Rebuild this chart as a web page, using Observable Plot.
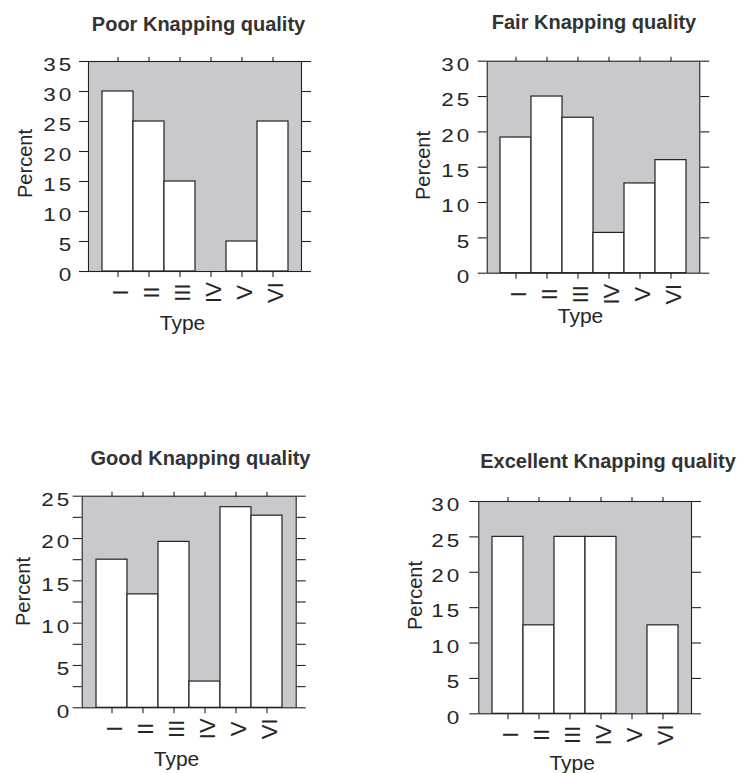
<!DOCTYPE html>
<html>
<head>
<meta charset="utf-8">
<script src="https://cdn.jsdelivr.net/npm/d3@7"></script>
<script src="https://cdn.jsdelivr.net/npm/@observablehq/plot@0.6"></script>
<style>
  html, body { margin: 0; padding: 0; background: #fff; overflow: hidden; }
  #page { position: relative; width: 747px; height: 773px; }
  #page svg { position: absolute; left: 0; top: 0; }
</style>
</head>
<body>
<div id="page"></div>
<script>
// ---- data ----
const types = ["I", "II", "III", "IV", "V", "VI"];
const titles = ["Poor Knapping quality", "Fair Knapping quality", "Good Knapping quality", "Excellent Knapping quality"];
const poorPct = [30, 25, 15, 0, 5, 25];
const fairPct = [19.2, 25, 22, 5.7, 12.7, 16];
const goodPct = [17.5, 13.4, 19.6, 3.1, 23.7, 22.7];
const excellentPct = [25, 12.5, 25, 25, 0, 12.5];
const yMaxes = [35, 30, 25, 30];
const yLabelStep = 5;
const minorSteps = [null, null, 2.5, null];
const yTitle = "Percent";
const xTitle = "Type";

// ---- layout (page pixel coordinates) ----
const W = 747, H = 773;
const GRAY = "#c9c9cd", INK = "#222", TEXT = "#262626";
const layout = [
  {frame: [88, 301, 61, 271],          titleAt: [198, 24.5],   percentAt: [25, 163],  typeAt: [182, 323],   tickRight: 70},
  {frame: [486.7, 699.3, 60.7, 272.7], titleAt: [593.5, 22],   percentAt: [423, 165], typeAt: [580, 316],   tickRight: 468},
  {frame: [81.7, 295.7, 495.7, 707.3], titleAt: [200, 458.3],  percentAt: [23, 591],  typeAt: [176, 758.3], tickRight: 68},
  {frame: [478.3, 691, 501, 713.3],    titleAt: [607.5, 461],  percentAt: [415, 595], typeAt: [571.7, 763], tickRight: 458}
];
const series = [poorPct, fairPct, goodPct, excellentPct];

const page = document.getElementById("page");

series.forEach((values, k) => {
  const lay = layout[k];
  const [L, R, T, B] = lay.frame;
  const rows = types.map((t, i) => ({type: t, pct: values[i]}));
  const yMax = yMaxes[k];
  const major = d3.range(0, yMax + 0.001, yLabelStep);
  const tickVals = minorSteps[k] ? d3.range(0, yMax + 0.001, minorSteps[k]) : major;

  const svg = Plot.plot({
    width: W, height: H,
    marginLeft: L, marginRight: W - R, marginTop: T, marginBottom: H - B,
    style: {background: "transparent", overflow: "visible", color: INK,
            fontFamily: "'Liberation Sans', Arial, Helvetica, sans-serif"},
    x: {type: "band", domain: types, paddingInner: 0, paddingOuter: 0.42, align: 0.5},
    y: {domain: [0, yMax]},
    marks: [
      Plot.frame({fill: GRAY, stroke: null}),
      Plot.barY(rows, {x: "type", y: "pct", fill: "white", stroke: INK, strokeWidth: 1.2}),
      Plot.frame({stroke: INK, strokeWidth: 1.1}),
      Plot.axisY({anchor: "left", ticks: tickVals, tickSize: 9, tickFormat: () => "", label: null, strokeWidth: 1.1}),
      Plot.axisY({anchor: "right", ticks: tickVals, tickSize: 9, tickFormat: () => "", label: null, strokeWidth: 1.1}),
      Plot.axisX({anchor: "top", tickSize: 5, tickFormat: () => "", label: null, strokeWidth: 1.1}),
      Plot.axisX({anchor: "bottom", tickSize: 6, tickFormat: () => "", label: null, strokeWidth: 1.1}),
      Plot.text(major, {y: d => d, text: d => String(d), frameAnchor: "left",
        dx: lay.tickRight - L + 4, dy: 4, textAnchor: "end", lineAnchor: "middle", fontSize: 18, fill: TEXT}),
      Plot.text(types, {x: d => d, text: d => d, frameAnchor: "bottom", rotate: -90,
        dx: 3, dy: 21, textAnchor: "middle", lineAnchor: "middle", fontSize: 22, fill: TEXT}),
      Plot.text([titles[k]], {frameAnchor: "top-left", dx: lay.titleAt[0] - L, dy: lay.titleAt[1] - T,
        textAnchor: "middle", lineAnchor: "middle", fontSize: 20, fontWeight: "bold", fill: "#333"}),
      Plot.text([yTitle], {frameAnchor: "top-left", dx: lay.percentAt[0] - L, dy: lay.percentAt[1] - T,
        rotate: -90, textAnchor: "middle", lineAnchor: "middle", fontSize: 20, fill: TEXT}),
      Plot.text([xTitle], {frameAnchor: "top-left", dx: lay.typeAt[0] - L, dy: lay.typeAt[1] - T,
        textAnchor: "middle", lineAnchor: "middle", fontSize: 21, fill: TEXT})
    ]
  });

  // widen the y tick numerals like the reference's letter-spaced, wide digits
  d3.select(svg).selectAll("text").each(function () {
    if (!/^\d+$/.test(this.textContent)) return;
    this.setAttribute("letter-spacing", "2.5");
    const t = this.getAttribute("transform");
    if (t && t.indexOf("translate") >= 0 && t.indexOf("rotate") < 0) {
      this.setAttribute("transform", t + " scale(1.25,1)");
    }
  });

  page.appendChild(svg);
});
</script>
</body>
</html>
